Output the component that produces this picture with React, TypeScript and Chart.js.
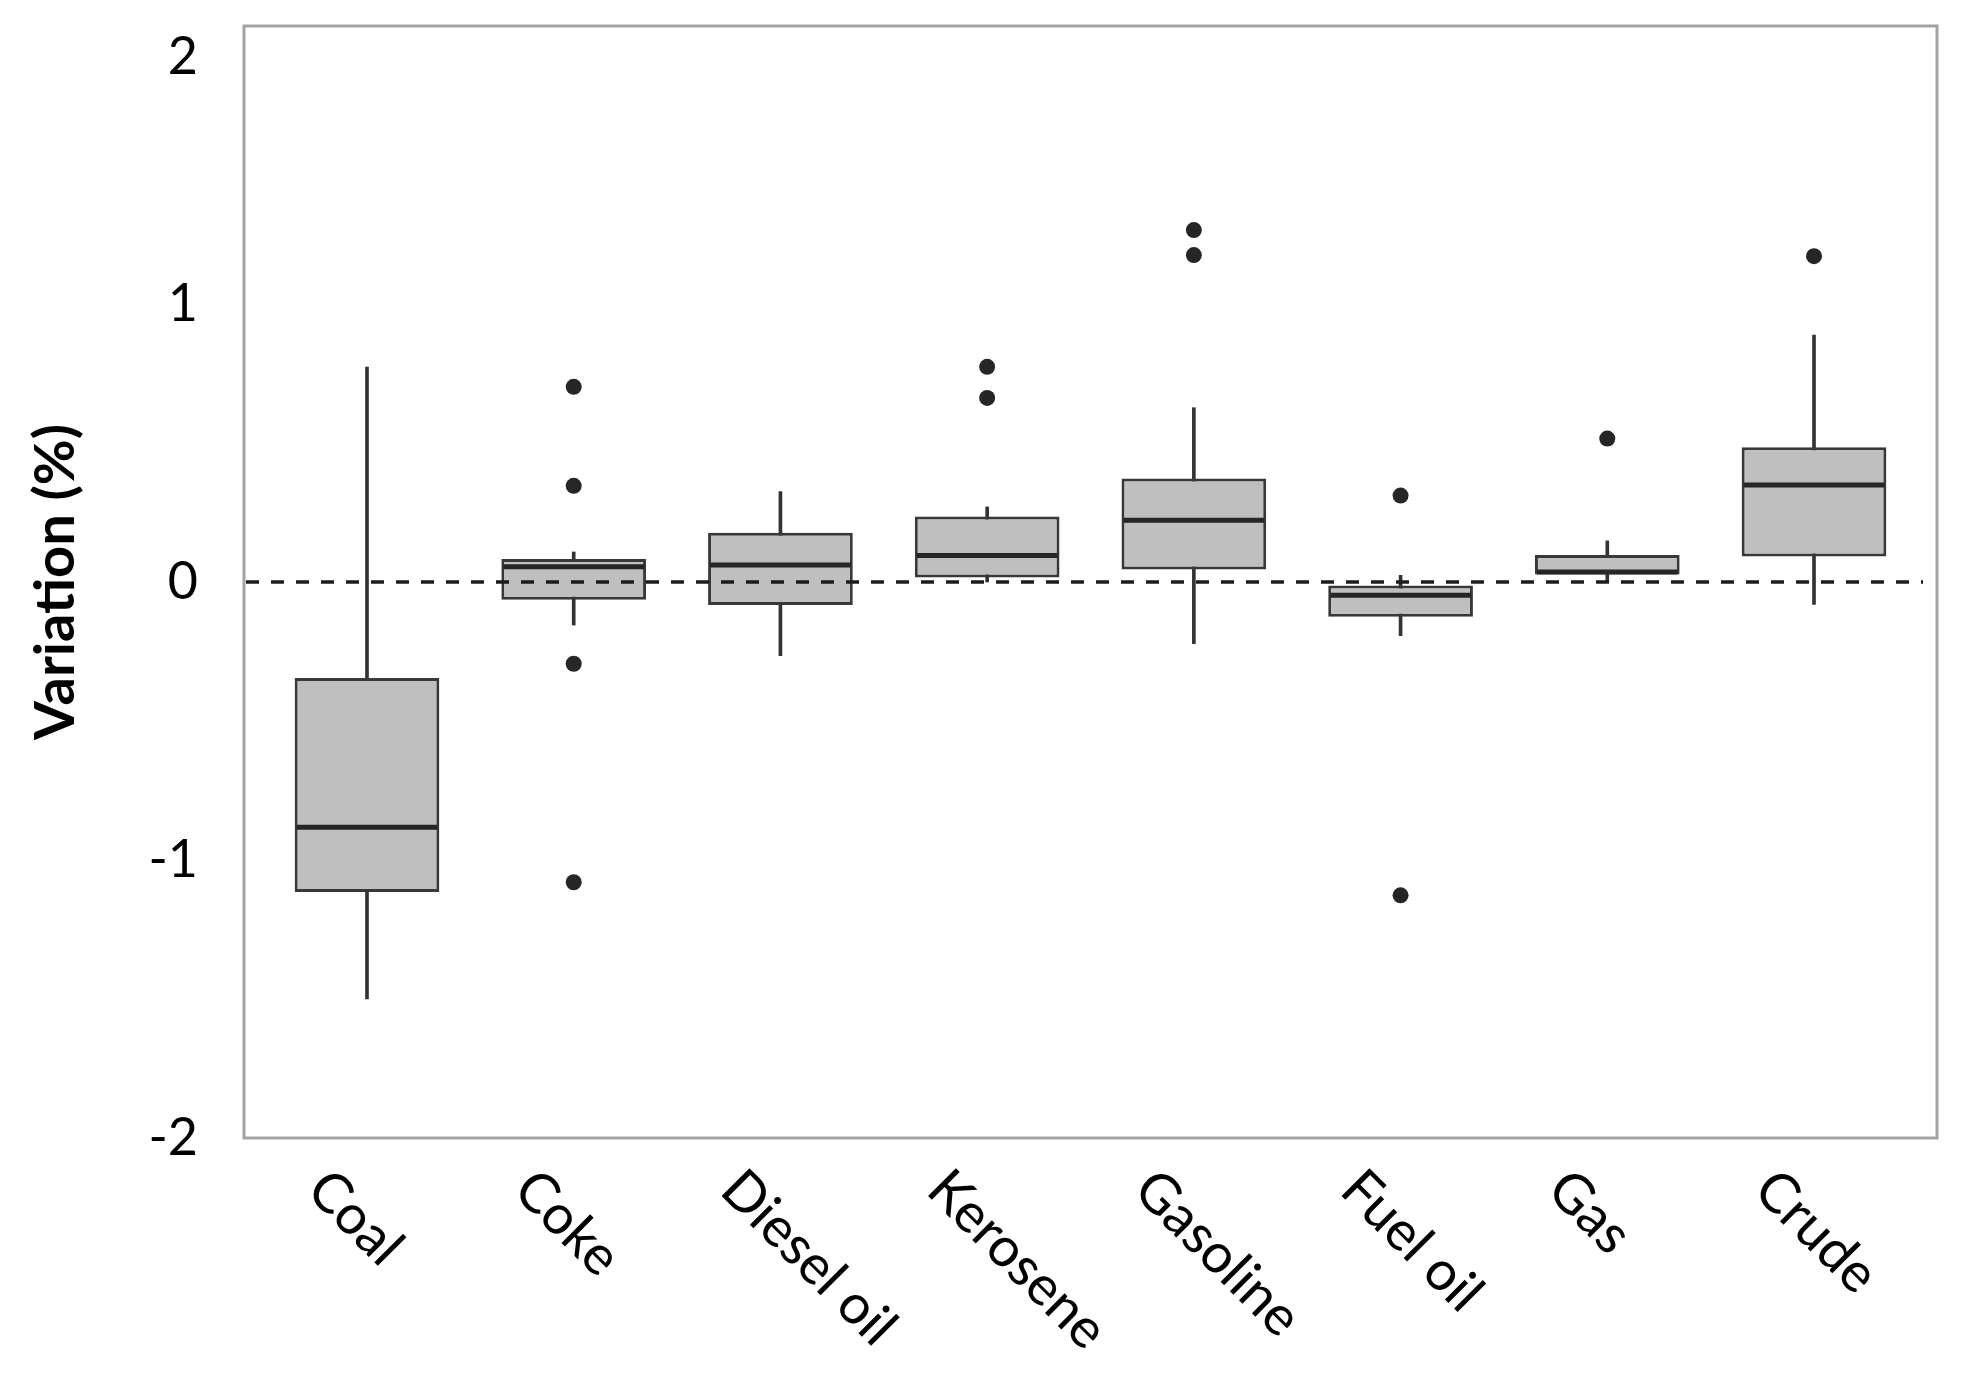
import React, { useEffect, useRef } from 'react';
import { Chart, registerables } from 'chart.js';

Chart.register(...registerables);

// ---- data ----
const categories = ['Coal', 'Coke', 'Diesel oil', 'Kerosene', 'Gasoline', 'Fuel oil', 'Gas', 'Crude'];
const whiskerLow = [-1.5, -0.155, -0.265, 0.0, -0.222, -0.193, 0.0, -0.081];
const q1 = [-1.115, -0.064, -0.083, 0.016, 0.045, -0.125, 0.027, 0.092];
const medians = [-0.882, 0.055, 0.061, 0.095, 0.222, -0.048, 0.036, 0.349];
const q3 = [-0.345, 0.083, 0.177, 0.236, 0.372, -0.013, 0.097, 0.485];
const whiskerHigh = [0.773, 0.108, 0.325, 0.27, 0.627, 0.024, 0.148, 0.888];
const outliers: number[][] = [
  [],
  [0.702, 0.346, -0.294, -1.08],
  [],
  [0.774, 0.662],
  [1.266, 1.176],
  [0.311, -1.127],
  [0.516],
  [1.172],
];
const yTicks = [-2, -1, 0, 1, 2];
const referenceLine = 0;
const yTitle = 'Variation (%)';

const FONT = 'Lato';

export default function App() {
  const ref = useRef<HTMLCanvasElement>(null);

  useEffect(() => {
    const canvas = ref.current;
    if (!canvas) return;

    const extras = {
      id: 'boxExtras',
      beforeDatasetsDraw(chart: any) {
        const { ctx, chartArea } = chart;
        ctx.save();
        ctx.strokeStyle = '#a3a3a3';
        ctx.lineWidth = 3;
        ctx.strokeRect(chartArea.left, chartArea.top, chartArea.right - chartArea.left, chartArea.bottom - chartArea.top);
        ctx.restore();
      },
      afterDatasetsDraw(chart: any) {
        const { ctx, chartArea } = chart;
        const yScale = chart.scales.y;
        const meta = chart.getDatasetMeta(1);
        ctx.save();
        ctx.strokeStyle = '#262626';
        ctx.lineWidth = 5;
        meta.data.forEach((el: any, i: number) => {
          const { x, width } = el.getProps(['x', 'width'], true);
          const y = yScale.getPixelForValue(medians[i]);
          ctx.beginPath();
          ctx.moveTo(x - width / 2 + 2, y);
          ctx.lineTo(x + width / 2 - 2, y);
          ctx.stroke();
        });
        // dashed reference line
        const y0 = yScale.getPixelForValue(referenceLine);
        ctx.setLineDash([13, 12]);
        ctx.lineWidth = 3.5;
        ctx.strokeStyle = '#1c1c1c';
        ctx.beginPath();
        ctx.moveTo(chartArea.left + 2, y0);
        ctx.lineTo(chartArea.right - 14, y0);
        ctx.stroke();
        ctx.restore();
      },
      afterDraw(chart: any) {
        const { ctx, chartArea } = chart;
        const xScale = chart.scales.x;
        ctx.save();
        ctx.font = `55px ${FONT}`;
        ctx.fillStyle = '#000';
        ctx.textAlign = 'left';
        ctx.textBaseline = 'middle';
        categories.forEach((label, i) => {
          const x = xScale.getPixelForValue(i);
          ctx.save();
          ctx.translate(x - 50, chartArea.bottom + 42);
          ctx.rotate(Math.PI / 4);
          ctx.fillText(label, 0, 0);
          ctx.restore();
        });
        ctx.restore();
      },
    };

    const chart = new Chart(canvas, {
      type: 'bar',
      data: {
        datasets: [
          {
            type: 'bar',
            label: 'whiskers',
            data: categories.map((_, i) => ({ x: i, y: [whiskerLow[i], whiskerHigh[i]] })) as any,
            backgroundColor: '#333333',
            borderWidth: 0,
            barThickness: 3,
            grouped: false,
            order: 3,
          } as any,
          {
            type: 'bar',
            label: 'boxes',
            data: categories.map((_, i) => ({ x: i, y: [q1[i], q3[i]] })) as any,
            backgroundColor: '#bfbfbf',
            borderColor: '#383838',
            borderWidth: 3,
            borderSkipped: false,
            barPercentage: 0.7,
            categoryPercentage: 1,
            grouped: false,
            order: 2,
          } as any,
          {
            type: 'scatter',
            label: 'outliers',
            data: outliers.flatMap((vals, i) => vals.map((v) => ({ x: i, y: v }))),
            pointRadius: 8,
            pointBackgroundColor: '#262626',
            pointBorderWidth: 0,
            order: 1,
          } as any,
        ],
      },
      options: {
        animation: false,
        responsive: true,
        maintainAspectRatio: false,
        layout: { padding: { top: 26, right: 26, left: 0, bottom: 0 } },
        plugins: { legend: { display: false }, tooltip: { enabled: false } },
        scales: {
          x: {
            type: 'linear',
            offset: false,
            min: -0.595,
            max: categories.length - 1 + 0.595,
            afterBuildTicks: (s: any) => {
              s.ticks = categories.map((_, i) => ({ value: i }));
            },
            grid: { display: false, drawTicks: false },
            border: { display: false },
            ticks: { display: false },
            afterFit: (s: any) => {
              s.height = 249;
              s.paddingLeft = 0;
              s.paddingRight = 0;
            },
          },
          y: {
            type: 'linear',
            min: yTicks[0],
            max: yTicks[yTicks.length - 1],
            afterBuildTicks: (s: any) => {
              s.ticks = yTicks.map((v) => ({ value: v }));
            },
            grid: { display: false, drawTicks: false },
            border: { display: false },
            ticks: {
              font: { family: FONT, size: 52 },
              color: '#000',
              padding: 46,
              callback: (v: any) => (v === yTicks[yTicks.length - 1] ? ['', String(v)] : String(v)),
            },
            title: {
              display: true,
              text: yTitle,
              color: '#000',
              font: { family: FONT, size: 56, weight: 'bold' },
              padding: { top: 22, bottom: 0 },
            },
            afterFit: (s: any) => {
              s.width = 244;
              s.paddingTop = 0;
              s.paddingBottom = 0;
            },
          },
        },
      } as any,
      plugins: [extras],
    });

    return () => chart.destroy();
  }, []);

  return (
    <div style={{ position: 'fixed', left: 0, top: 0, width: 1963, height: 1387, background: '#fff' }}>
      <canvas ref={ref} />
    </div>
  );
}
